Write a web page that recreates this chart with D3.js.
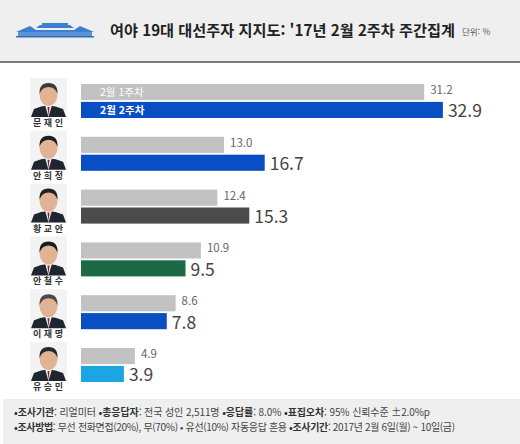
<!DOCTYPE html>
<html lang="ko">
<head>
<meta charset="UTF-8">
<title>여야 19대 대선주자 지지도</title>
<script src="https://d3js.org/d3.v7.min.js"></script>
<style>
  body { margin: 0; background: #fff; }
  svg { display: block; font-family: "Noto Sans CJK KR", "Noto Sans", sans-serif; }
</style>
</head>
<body>
<svg width="520" height="444"></svg>
<script>
const names = ["문재인", "안희정", "황교안", "안철수", "이재명", "유승민"];
const week1 = [31.2, 13.0, 12.4, 10.9, 8.6, 4.9];
const week2 = [32.9, 16.7, 15.3, 9.5, 7.8, 3.9];
const seriesLabels = ["2월 1주차", "2월 2주차"];
const barColors = ["#0a4ec4", "#0a4ec4", "#4b4b4b", "#1c6a44", "#0a4ec4", "#1ba6e3"];

const svg = d3.select("svg");
const width = 520, height = 444;

// header
svg.append("rect").attr("x", 0).attr("y", 0).attr("width", width).attr("height", 61).attr("fill", "#efefef");
svg.append("rect").attr("x", 0).attr("y", 61).attr("width", width).attr("height", 2).attr("fill", "#7a7a7a");

// little palace logo
const logo = svg.append("g").attr("fill", "#3d7fcf");
logo.append("rect").attr("x", 42).attr("y", 23).attr("width", 26).attr("height", 2.5);
logo.append("path").attr("d", "M36,28 L74,28 L70,25 L40,25 Z");
logo.append("path").attr("d", "M16,32 L30,26 L36,30 L74,30 L80,26 L94,32 Z");
logo.append("rect").attr("x", 18).attr("y", 32).attr("width", 74).attr("height", 4).attr("fill", "#5b93d6");
logo.append("rect").attr("x", 16).attr("y", 36).attr("width", 78).attr("height", 1.5).attr("fill", "#2f6fbf");

svg.append("text")
  .attr("x", 110).attr("y", 36)
  .attr("font-size", 15.2).attr("font-weight", "bold").attr("fill", "#222")
  .text("여야 19대 대선주자 지지도: '17년 2월 2주차 주간집계");
svg.append("text")
  .attr("x", 462).attr("y", 35)
  .attr("font-size", 8.5).attr("fill", "#555")
  .text("단위: %");

// scales
const x = d3.scaleLinear().domain([0, 35]).range([81, 81 + 35 * 11]);
const y = d3.scaleBand().domain(names).range([84, 382]).paddingInner(0.356).paddingOuter(0);
const ySub = d3.scaleBand().domain(["w1", "w2"]).range([0, y.bandwidth()]).paddingInner(0.1);

const groups = svg.append("g").selectAll("g")
  .data(names.map((n, i) => ({name: n, w1: week1[i], w2: week2[i], color: barColors[i], i})))
  .join("g")
  .attr("transform", d => `translate(0,${y(d.name)})`);

groups.append("rect")
  .attr("x", x(0)).attr("y", ySub("w1"))
  .attr("width", d => x(d.w1) - x(0)).attr("height", ySub.bandwidth())
  .attr("fill", "#c2c2c2");
groups.append("rect")
  .attr("x", x(0)).attr("y", ySub("w2"))
  .attr("width", d => x(d.w2) - x(0)).attr("height", ySub.bandwidth())
  .attr("fill", d => d.color);

groups.append("text")
  .attr("x", d => x(d.w1) + 6).attr("y", ySub("w1") + 10)
  .attr("font-size", 11.5).attr("fill", "#666")
  .text(d => d.w1.toFixed(1));
groups.append("text")
  .attr("x", d => x(d.w2) + 5).attr("y", ySub("w2") + 15.5)
  .attr("font-size", 17.5).attr("fill", "#444")
  .text(d => d.w2.toFixed(1));

// legend inside first group
const first = groups.filter(d => d.i === 0);
first.append("text").attr("x", 100).attr("y", ySub("w1") + 12)
  .attr("font-size", 10.5).attr("fill", "#fff").text(seriesLabels[0]);
first.append("text").attr("x", 100).attr("y", ySub("w2") + 12)
  .attr("font-size", 10.5).attr("font-weight", "bold").attr("fill", "#fff").text(seriesLabels[1]);

// portraits (simple stylised)
const hairColors = ["#3a3a3a", "#1e1e1e", "#222", "#1b1b1b", "#4a4a4a", "#2a2a2a"];
const portraits = groups.append("g").attr("transform", "translate(30,-6)");
portraits.append("rect").attr("width", 37).attr("height", 39).attr("fill", "#f3f3f3");
portraits.append("path").attr("d", "M1,39 L4,31 Q18,24 33,31 L36,39 Z").attr("fill", "#1f2630");
portraits.append("path").attr("d", "M15,27 L18.5,39 L22,27 Z").attr("fill", "#eee");
portraits.append("ellipse").attr("cx", 18.5).attr("cy", 17).attr("rx", 9).attr("ry", 11).attr("fill", "#e0b394");
portraits.append("path")
  .attr("d", "M9.5,16 Q9,5 18.5,5 Q28,5 27.5,16 Q25,9 18.5,9 Q12,9 9.5,16 Z")
  .attr("fill", (d, i) => hairColors[i]);
portraits.append("path").attr("d", "M17.5,29 L18.5,38 L19.5,29 Z").attr("fill", "#8a2030");

groups.append("text")
  .attr("x", 48).attr("y", 42)
  .attr("text-anchor", "middle")
  .attr("font-size", 9).attr("font-weight", "bold").attr("fill", "#333")
  .text(d => d.name.split("").join(" "));

// footer
svg.append("rect").attr("x", 3).attr("y", 399).attr("width", 517).attr("height", 45).attr("fill", "#efefef");
const footerLines = [
  [["•조사기관", ": 리얼미터 "], ["•총응답자", ": 전국 성인 2,511명  "], ["•응답률", ": 8.0% "], ["•표집오차", ": 95% 신뢰수준 ±2.0%p"]],
  [["•조사방법", ": 무선 전화면접(20%), 무(70%) • 유선(10%) 자동응답 혼용  "], ["•조사기간", ": 2017년 2월 6일(월) ~ 10일(금)"]]
];
const footerSpacing = [-0.1, -0.35];
footerLines.forEach((line, li) => {
  const t = svg.append("text").attr("x", 14).attr("y", 416 + li * 15)
    .attr("font-size", 10).attr("letter-spacing", footerSpacing[li]).attr("fill", "#444");
  line.forEach(([label, rest]) => {
    t.append("tspan").attr("font-weight", "bold").attr("fill", "#333").text(label);
    t.append("tspan").text(rest);
  });
});
</script>
</body>
</html>
